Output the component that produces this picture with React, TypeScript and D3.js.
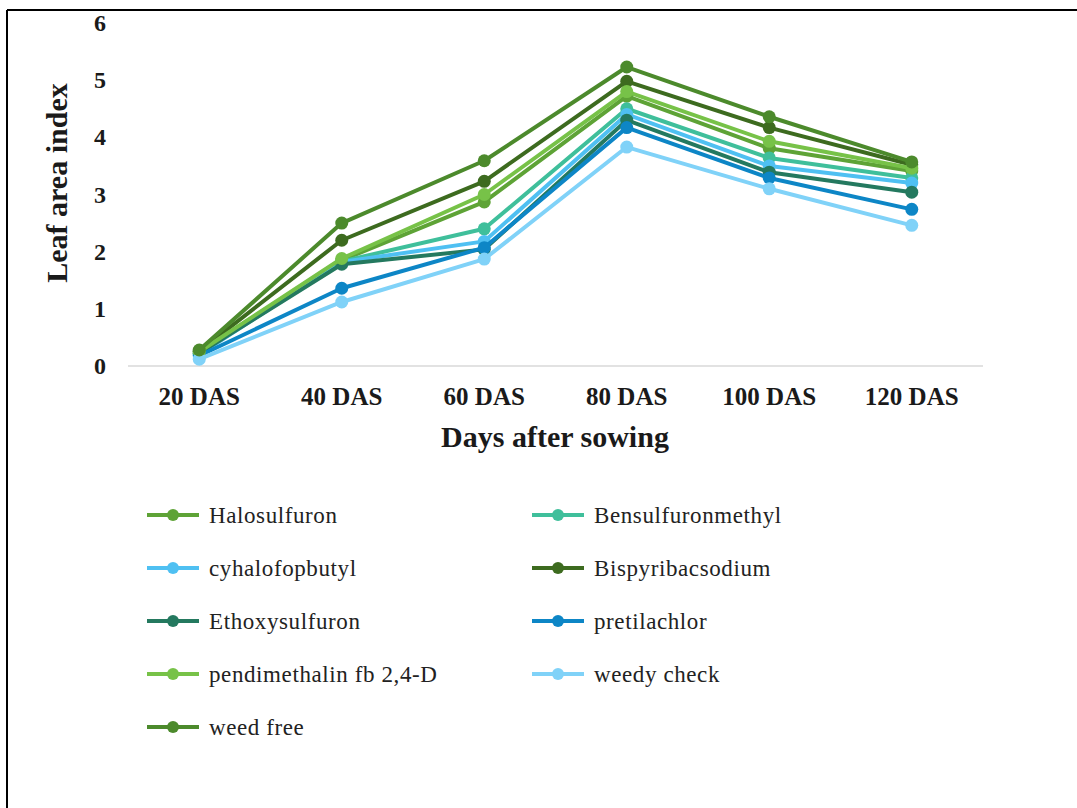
import React from "react";
import * as d3 from "d3";

const categories = ["20 DAS", "40 DAS", "60 DAS", "80 DAS", "100 DAS", "120 DAS"];
const yTicks = [0, 1, 2, 3, 4, 5, 6];

const seriesNames = [
  "Halosulfuron",
  "Bensulfuronmethyl",
  "cyhalofopbutyl",
  "Bispyribacsodium",
  "Ethoxysulfuron",
  "pretilachlor",
  "pendimethalin fb 2,4-D",
  "weedy check",
  "weed free",
];

const halosulfuron = [0.25, 1.85, 2.87, 4.72, 3.81, 3.41];
const bensulfuronmethyl = [0.22, 1.83, 2.4, 4.5, 3.64, 3.29];
const cyhalofopbutyl = [0.2, 1.82, 2.18, 4.4, 3.5, 3.2];
const bispyribacsodium = [0.26, 2.2, 3.23, 4.98, 4.17, 3.52];
const ethoxysulfuron = [0.22, 1.78, 2.04, 4.3, 3.39, 3.04];
const pretilachlor = [0.18, 1.36, 2.07, 4.17, 3.29, 2.74];
const pendimethalin = [0.25, 1.88, 3.0, 4.8, 3.93, 3.46];
const weedyCheck = [0.12, 1.12, 1.87, 3.83, 3.1, 2.46];
const weedFree = [0.28, 2.5, 3.59, 5.23, 4.36, 3.57];

const seriesValues = [
  halosulfuron,
  bensulfuronmethyl,
  cyhalofopbutyl,
  bispyribacsodium,
  ethoxysulfuron,
  pretilachlor,
  pendimethalin,
  weedyCheck,
  weedFree,
];

const colors = [
  "#5ea336",
  "#3fbf9b",
  "#4fc0f2",
  "#3d6b1f",
  "#24795f",
  "#0d86c6",
  "#77c248",
  "#80d2f8",
  "#4c8a2c",
];

export default function App() {
  const W = 1077;
  const H = 808;
  const x = d3.scaleBand<string>().domain(categories).range([128, 983]);
  const y = d3.scaleLinear().domain([0, 6]).range([366, 23]);
  const cx = (c: string) => (x(c) as number) + x.bandwidth() / 2;
  const line = d3
    .line<number>()
    .x((_, i) => cx(categories[i]))
    .y((d) => y(d));

  const font = "'Liberation Serif', 'Times New Roman', serif";

  return (
    <svg
      width={W}
      height={H}
      style={{ position: "absolute", left: 0, top: 0, background: "#fff" }}
      fontFamily={font}
    >
      <rect x={0} y={0} width={W} height={H} fill="#fff" />
      {/* frame */}
      <line x1={7} y1={10} x2={W} y2={10} stroke="#000" strokeWidth={2} />
      <line x1={7} y1={10} x2={7} y2={H} stroke="#000" strokeWidth={2} />

      {/* y tick labels */}
      {yTicks.map((t) => (
        <text
          key={t}
          x={100}
          y={y(t) + 8}
          textAnchor="middle"
          fontSize={24}
          fontWeight="bold"
          fill="#1a1a1a"
          fontFamily={font}
        >
          {t}
        </text>
      ))}

      {/* x axis line */}
      <line x1={128} x2={983} y1={y(0)} y2={y(0)} stroke="#d9d9d9" strokeWidth={1.5} />

      {/* x tick labels */}
      {categories.map((c) => (
        <text
          key={c}
          x={cx(c)}
          y={405}
          textAnchor="middle"
          fontSize={25}
          fontWeight="bold"
          fill="#1a1a1a"
          fontFamily={font}
        >
          {c}
        </text>
      ))}

      {/* axis titles */}
      <text
        x={555}
        y={447}
        textAnchor="middle"
        fontSize={30}
        fontWeight="bold"
        fill="#1a1a1a"
        fontFamily={font}
      >
        Days after sowing
      </text>
      <text
        transform={`translate(67,183) rotate(-90)`}
        textAnchor="middle"
        fontSize={30}
        fontWeight="bold"
        fill="#1a1a1a"
        fontFamily={font}
      >
        Leaf area index
      </text>

      {/* series */}
      {seriesValues.map((vals, si) => (
        <g key={seriesNames[si]}>
          <path d={line(vals) || ""} fill="none" stroke={colors[si]} strokeWidth={4} strokeLinejoin="round" />
          {vals.map((v, i) => (
            <circle key={i} cx={cx(categories[i])} cy={y(v)} r={6.5} fill={colors[si]} />
          ))}
        </g>
      ))}

      {/* legend */}
      {seriesNames.map((name, si) => {
        const col = si % 2;
        const row = Math.floor(si / 2);
        const lx = col === 0 ? 147 : 532;
        const ly = 515 + row * 53;
        return (
          <g key={name}>
            <line x1={lx} x2={lx + 52} y1={ly} y2={ly} stroke={colors[si]} strokeWidth={4} />
            <circle cx={lx + 26} cy={ly} r={6} fill={colors[si]} />
            <text
              x={lx + 62}
              y={ly + 8}
              fontSize={23}
              letterSpacing={0.6}
              fill="#222"
              fontFamily={font}
            >
              {name}
            </text>
          </g>
        );
      })}
    </svg>
  );
}
